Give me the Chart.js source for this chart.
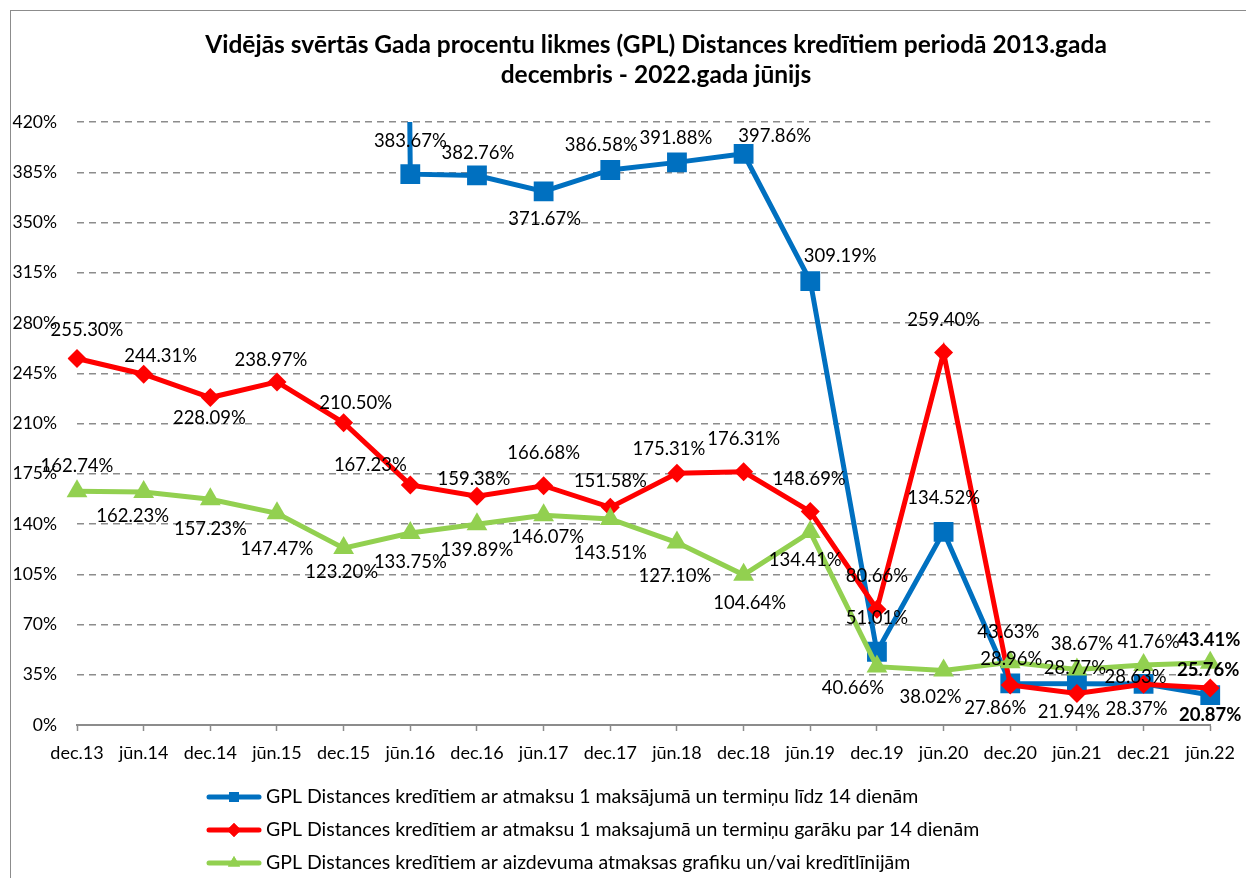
<!DOCTYPE html>
<html>
<head>
<meta charset="utf-8">
<script src="https://cdn.jsdelivr.net/npm/chart.js@4.4.0/dist/chart.umd.min.js"></script>
<style>
  html, body { margin: 0; padding: 0; background: #fff; overflow: hidden; }
  #wrap { position: relative; width: 1246px; height: 878px; }
  #gplChart { position: absolute; left: 0; top: 0; }
  #frame {
    position: absolute; left: 10px; top: 10px; width: 2000px; height: 2000px;
    border-left: 1px solid #8c8c8c; border-top: 1px solid #8c8c8c; pointer-events: none;
  }
</style>
</head>
<body>
<div id="wrap">
  <canvas id="gplChart" width="1246" height="878"></canvas>
  <div id="frame"></div>
</div>
<script>
const periods = ['dec.13', 'jūn.14', 'dec.14', 'jūn.15', 'dec.15', 'jūn.16', 'dec.16', 'jūn.17', 'dec.17',
  'jūn.18', 'dec.18', 'jūn.19', 'dec.19', 'jūn.20', 'dec.20', 'jūn.21', 'dec.21', 'jūn.22'];

// dec.15 value runs far off the top of the axis (line comes straight down into jūn.16)
const gplUpTo14 = [null, null, null, null, 5000, 383.67, 382.76, 371.67, 386.58, 391.88, 397.86, 309.19,
  51.01, 134.52, 28.96, 28.77, 28.63, 20.87];
const gplOver14 = [255.30, 244.31, 228.09, 238.97, 210.50, 167.23, 159.38, 166.68, 151.58, 175.31, 176.31,
  148.69, 80.66, 259.40, 27.86, 21.94, 28.37, 25.76];
const gplSchedule = [162.74, 162.23, 157.23, 147.47, 123.20, 133.75, 139.89, 146.07, 143.51, 127.10, 104.64,
  134.41, 40.66, 38.02, 43.63, 38.67, 41.76, 43.41];

const yTicks = { min: 0, max: 420, step: 35 };

const titleLines = ['Vidējās svērtās Gada procentu likmes (GPL) Distances kredītiem periodā 2013.gada',
  'decembris - 2022.gada jūnijs'];
const seriesNames = [
  'GPL Distances kredītiem ar atmaksu 1 maksājumā un termiņu līdz 14 dienām',
  'GPL Distances kredītiem ar atmaksu 1 maksajumā un termiņu garāku par 14 dienām',
  'GPL Distances kredītiem ar aizdevuma atmaksas grafiku un/vai kredītlīnijām'
];

// label nudges (px) relative to each point, as placed in the original
const blueNudge = [null, null, null, null, null, [0, -33], [1, -22], [1, 28], [-9, -25], [-1, -24], [31, -18],
  [30, -25], [0, -34], [0, -34], [1, -24], [-2, -16], [-8, -7], [0, 20]];
const redNudge = [[10, -28], [17, -18], [-1, 21], [-6, -22], [12, -20], [-40, -20], [-3, -17], [0, -33],
  [0, -26], [-8, -24], [0, -33], [-1, -32], [0, -33], [0, -33], [-15, 23], [-8, 19], [-7, 25], [-2, -18]];
const greenNudge = [[0, -25], [-11, 24], [0, 30], [0, 36], [-2, 24], [0, 29], [0, 26], [4, 22], [0, 34],
  [-2, 34], [6, 28], [-5, 28], [-24, 21], [-13, 27], [-2, -30], [5, -25], [5, -23], [-1, -23]];

const FONT = 'Lato, "Open Sans", sans-serif';

// title is centred on the outer frame, not on the plot, so it is drawn here
const frameTitle = {
  id: 'frameTitle',
  afterDraw(chart) {
    const { ctx } = chart;
    ctx.save();
    ctx.fillStyle = '#000';
    ctx.font = 'bold 24.5px ' + FONT;
    ctx.textAlign = 'center';
    ctx.textBaseline = 'middle';
    titleLines.forEach((line, i) => ctx.fillText(line, 656, 45 + i * 30));
    ctx.restore();
  }
};

const pointLabels = {
  id: 'pointLabels',
  afterDatasetsDraw(chart) {
    const { ctx, chartArea } = chart;
    ctx.save();
    ctx.fillStyle = '#000';
    ctx.textAlign = 'center';
    ctx.textBaseline = 'middle';
    chart.data.datasets.forEach((ds, di) => {
      const meta = chart.getDatasetMeta(di);
      meta.data.forEach((pt, i) => {
        const v = ds.data[i];
        const nudge = ds.nudge[i];
        if (v == null || !nudge) return;
        if (pt.y < chartArea.top - 1) return;
        const last = i === ds.data.length - 1;
        ctx.font = (last ? 'bold ' : '') + '18.5px ' + FONT;
        ctx.fillText(v.toFixed(2) + '%', pt.x + nudge[0], pt.y + nudge[1]);
      });
    });
    ctx.restore();
  }
};

const bottomLegend = {
  id: 'bottomLegend',
  afterDraw(chart) {
    const { ctx, chartArea } = chart;
    ctx.save();
    chart.data.datasets.forEach((ds, di) => {
      const y = chartArea.bottom + 72 + di * 33;
      ctx.strokeStyle = ds.borderColor;
      ctx.lineWidth = 5;
      ctx.lineCap = 'round';
      ctx.beginPath();
      ctx.moveTo(209, y);
      ctx.lineTo(259, y);
      ctx.stroke();
      ctx.fillStyle = ds.borderColor;
      Chart.helpers.drawPoint(ctx, { pointStyle: ds.pointStyle, radius: 7, rotation: 0, borderWidth: 0 }, 234, y);
      ctx.fill();
      ctx.fillStyle = '#000';
      ctx.font = '19.5px ' + FONT;
      ctx.textAlign = 'left';
      ctx.textBaseline = 'middle';
      ctx.fillText(ds.label, 266, y);
    });
    ctx.restore();
  }
};

const ctx = document.getElementById('gplChart').getContext('2d');
new Chart(ctx, {
  type: 'line',
  data: {
    labels: periods,
    datasets: [
      {
        label: seriesNames[0], data: gplUpTo14, nudge: blueNudge, order: 2,
        borderColor: '#0070C0', backgroundColor: '#0070C0', borderWidth: 5,
        pointStyle: 'rect', pointRadius: 14, pointBorderWidth: 0, spanGaps: false
      },
      {
        label: seriesNames[1], data: gplOver14, nudge: redNudge, order: 1,
        borderColor: '#FF0000', backgroundColor: '#FF0000', borderWidth: 5,
        pointStyle: 'rectRot', pointRadius: 9.5, pointBorderWidth: 0
      },
      {
        label: seriesNames[2], data: gplSchedule, nudge: greenNudge, order: 0,
        borderColor: '#92D050', backgroundColor: '#92D050', borderWidth: 5,
        pointStyle: 'triangle', pointRadius: 12, pointBorderWidth: 0
      }
    ]
  },
  options: {
    responsive: false,
    animation: false,
    devicePixelRatio: 1,
    layout: { padding: { left: 0, right: 31, top: 122, bottom: 108 } },
    elements: { line: { tension: 0 } },
    plugins: {
      legend: { display: false },
      tooltip: { enabled: false },
      title: { display: false }
    },
    scales: {
      x: {
        type: 'category',
        offset: false,
        grid: { drawOnChartArea: false, drawTicks: true, tickLength: 6, color: '#8c8c8c', tickWidth: 1.5 },
        border: { display: true, color: '#8c8c8c', width: 2 },
        ticks: { color: '#000', font: { family: FONT, size: 18 }, padding: 11, maxRotation: 0, autoSkip: false },
        afterFit: s => { s.height = 45; }
      },
      y: {
        min: yTicks.min,
        max: yTicks.max,
        grid: { color: c => c.tick.value === 0 ? 'rgba(0,0,0,0)' : '#8c8c8c', lineWidth: 1.5, drawTicks: false, borderDash: [7, 5] },
        border: { display: false, dash: [7, 5] },
        ticks: {
          stepSize: yTicks.step, color: '#000', padding: 20,
          font: { family: FONT, size: 17.5 },
          callback: v => v + '%'
        },
        afterFit: s => { s.width = 77; }
      }
    }
  },
  plugins: [frameTitle, pointLabels, bottomLegend]
});
</script>
</body>
</html>
